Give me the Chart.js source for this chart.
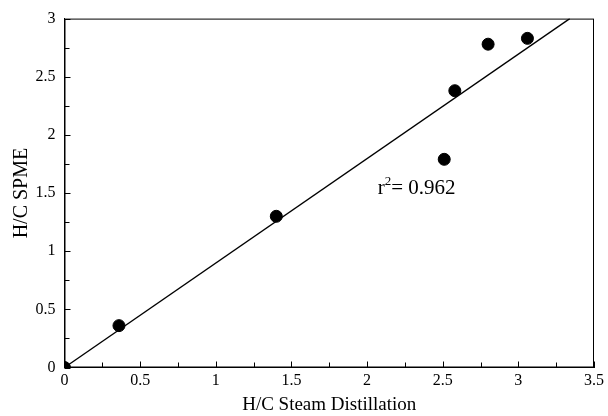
<!DOCTYPE html>
<html><head><meta charset="utf-8">
<script src="https://cdn.jsdelivr.net/npm/chart.js@4/dist/chart.umd.min.js"></script>
<style>html,body{margin:0;padding:0;background:#fff}#wrap{width:608px;height:416px}</style>
</head><body><div id="wrap"><canvas id="c" width="608" height="416"></canvas></div>
<script>
const steamX = [0, 0.36, 1.40, 2.51, 2.58, 2.80, 3.06];
const spmeY = [0, 0.36, 1.30, 1.79, 2.38, 2.78, 2.83];
const fitX = [0, 3.34];
const fitY = [0, 3.0];
const xTicks = [0, 0.5, 1, 1.5, 2, 2.5, 3, 3.5];
const yTicks = [0, 0.5, 1, 1.5, 2, 2.5, 3];
const annotationBase = "r";
const annotationSup = "2";
const annotationRest = "= 0.962";
const annotationPos = [2.07, 1.49];

const serif = "'Liberation Serif', 'Times New Roman', serif";

const frameTicks = {
  id: 'frameTicks',
  afterDraw(chart) {
    const ctx = chart.ctx, a = chart.chartArea;
    const xs = chart.scales.x, ys = chart.scales.y;
    ctx.save();
    ctx.strokeStyle = '#000'; ctx.lineWidth = 1;
    ctx.strokeRect(a.left + 0.5, a.top + 0.5, a.right - a.left - 1, a.bottom - a.top - 1);
    ctx.beginPath();
    for (let v = 0; v <= xs.max + 1e-9; v += 0.25) {
      const p = Math.round(xs.getPixelForValue(v)) + 0.5;
      const len = (Math.abs(v * 2 - Math.round(v * 2)) < 1e-6) ? 6 : 5;
      ctx.moveTo(p, a.bottom); ctx.lineTo(p, a.bottom - len);
    }
    for (let v = 0; v <= ys.max + 1e-9; v += 0.25) {
      const p = Math.round(ys.getPixelForValue(v)) + 0.5;
      const len = (Math.abs(v * 2 - Math.round(v * 2)) < 1e-6) ? 6 : 5;
      ctx.moveTo(a.left, p); ctx.lineTo(a.left + len, p);
    }
    ctx.stroke();
    ctx.fillStyle = '#000';
    ctx.textBaseline = 'alphabetic';
    let px = xs.getPixelForValue(annotationPos[0]);
    const py = ys.getPixelForValue(annotationPos[1]);
    ctx.font = "21px " + serif;
    ctx.fillText(annotationBase, px, py);
    px += ctx.measureText(annotationBase).width;
    ctx.font = "13px " + serif;
    ctx.fillText(annotationSup, px, py - 9);
    px += ctx.measureText(annotationSup).width;
    ctx.font = "21px " + serif;
    ctx.fillText(annotationRest, px, py);
    ctx.restore();
  }
};

new Chart(document.getElementById('c'), {
  type: 'scatter',
  data: {
    datasets: [
      {
        data: steamX.map((x, i) => ({x: x, y: spmeY[i]})),
        backgroundColor: '#000', borderColor: '#000',
        pointRadius: 6, pointHoverRadius: 6, clip: 0
      },
      {
        type: 'line',
        data: fitX.map((x, i) => ({x: x, y: fitY[i]})),
        borderColor: '#000', borderWidth: 1.3, pointRadius: 0, fill: false, clip: 0
      }
    ]
  },
  options: {
    responsive: false, animation: false,
    layout: {padding: {left: 0, right: 11, top: 17, bottom: 0}},
    plugins: {legend: {display: false}, tooltip: {enabled: false}},
    scales: {
      x: {
        type: 'linear', min: 0, max: 3.5,
        afterBuildTicks(s) { s.ticks = xTicks.map(v => ({value: v})); },
        afterFit(s) { s.height = 48.5; },
        grid: {display: false, drawTicks: false},
        border: {display: true, color: '#000', width: 1},
        ticks: {color: '#000', font: {family: serif, size: 16}, padding: 4,
          callback: v => String(v)},
        title: {display: true, text: 'H/C Steam Distillation', color: '#000',
          font: {family: serif, size: 19}, padding: {top: 0, bottom: 0}}
      },
      y: {
        type: 'linear', min: 0, max: 3,
        afterBuildTicks(s) { s.ticks = yTicks.map(v => ({value: v})); },
        afterFit(s) { s.width = 64.5; },
        grid: {display: false, drawTicks: false},
        border: {display: true, color: '#000', width: 1},
        ticks: {color: '#000', font: {family: serif, size: 16}, padding: 9,
          callback: v => String(v)},
        title: {display: true, text: 'H/C SPME', color: '#000',
          font: {family: serif, size: 20}, padding: {top: 10, bottom: 0}}
      }
    }
  },
  plugins: [frameTicks]
});
</script></body></html>
